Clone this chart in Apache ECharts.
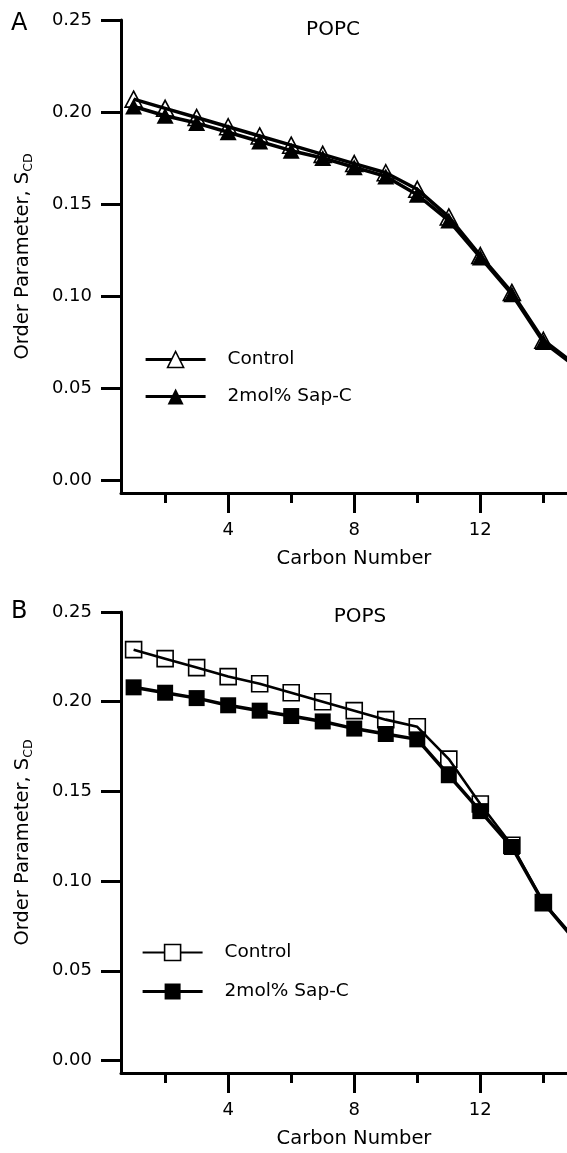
<!DOCTYPE html>
<html><head><meta charset="utf-8">
<script src="https://cdn.jsdelivr.net/npm/echarts@6/dist/echarts.min.js"></script>
<style>html,body{margin:0;padding:0;background:#fff}#c{width:567px;height:1153px}</style>
</head><body><div id="c"></div>
<script>
// ---- data ----
const carbons = [1, 2, 3, 4, 5, 6, 7, 8, 9, 10, 11, 12, 13, 14, 15];
const popcControl = [0.207, 0.202, 0.197, 0.192, 0.187, 0.182, 0.177, 0.172, 0.167, 0.158, 0.143, 0.122, 0.102, 0.076, 0.063];
const popcSapC    = [0.203, 0.198, 0.194, 0.189, 0.184, 0.179, 0.175, 0.170, 0.165, 0.155, 0.141, 0.121, 0.101, 0.075, 0.062];
const popsControl = [0.229, 0.224, 0.219, 0.214, 0.210, 0.205, 0.200, 0.195, 0.190, 0.186, 0.168, 0.143, 0.120, 0.088, 0.068];
const popsSapC    = [0.208, 0.205, 0.202, 0.198, 0.195, 0.192, 0.189, 0.185, 0.182, 0.179, 0.159, 0.139, 0.119, 0.088, 0.067];
const yTicks = [0, 0.05, 0.10, 0.15, 0.20, 0.25];
const xMajorTicks = [4, 8, 12];
const xMinorTicks = [2, 6, 10, 14];
const seriesNames = ['Control', '2mol% Sap-C'];
const panelTitles = ['POPC', 'POPS'];
const panelLetters = ['A', 'B'];
const xAxisName = 'Carbon Number';

// ---- layout ----
const FONT = 'DejaVu Sans';
const panels = [
  { top: 20, height: 473, legendLeft: 144, legendTop: 350, legendGap: 18, titleX: 333, titleY: 20, letterY: 12,
    symbol: 'triangle', symbolSize: [17, 16], ctrlWidth: 3.5, legendCtrlWidth: 3, data: [popcControl, popcSapC] },
  { top: 612, height: 461, legendLeft: 141, legendTop: 943, legendGap: 20, titleX: 360, titleY: 607, letterY: 600,
    symbol: 'rect', symbolSize: 16, ctrlWidth: 2.6, legendCtrlWidth: 2.2, data: [popsControl, popsSapC] }
];
const X_MIN = 0.6, X_MAX = 14.75, Y_MIN = -0.007, Y_MAX = 0.25;

const grid = [], xAxis = [], yAxis = [], series = [], legend = [], title = [];
panels.forEach((p, i) => {
  grid.push({ left: 121, top: p.top, width: 446, height: p.height, containLabel: false });
  const axisLine = { show: true, onZero: false, lineStyle: { color: '#000', width: 3 } };
  xAxis.push({
    type: 'value', gridIndex: i, position: 'bottom', min: X_MIN, max: X_MAX,
    axisLine: axisLine,
    axisTick: { show: true, inside: false, length: 20, customValues: xMajorTicks, lineStyle: { color: '#000', width: 3 } },
    axisLabel: { customValues: xMajorTicks, margin: 28, color: '#000', fontFamily: FONT, fontSize: 18 },
    splitLine: { show: false },
    name: xAxisName, nameLocation: 'middle', nameGap: 56,
    nameTextStyle: { color: '#000', fontFamily: FONT, fontSize: 19.5, padding: [0, 0, 0, 20] }
  });
  xAxis.push({
    type: 'value', gridIndex: i, position: 'bottom', offset: 0, min: X_MIN, max: X_MAX,
    axisLine: { show: false, onZero: false },
    axisTick: { show: true, inside: false, length: 10, customValues: xMinorTicks, lineStyle: { color: '#000', width: 3 } },
    axisLabel: { show: false },
    splitLine: { show: false }
  });
  yAxis.push({
    type: 'value', gridIndex: i, min: Y_MIN, max: Y_MAX,
    axisLine: axisLine,
    axisTick: { show: true, inside: false, length: 20, customValues: yTicks, lineStyle: { color: '#000', width: 3 } },
    axisLabel: { customValues: yTicks, margin: 29, color: '#000', fontFamily: FONT, fontSize: 18,
                 formatter: v => v.toFixed(2) },
    splitLine: { show: false },
    name: 'Order Parameter, S{sub|CD}', nameLocation: 'middle', nameGap: 86,
    nameTextStyle: { color: '#000', fontFamily: FONT, fontSize: 19.5, lineHeight: 24,
      rich: { sub: { fontFamily: FONT, fontSize: 12.5, color: '#000', verticalAlign: 'bottom', lineHeight: 24, padding: [10, 0, 0, 0] } } }
  });
  const names = seriesNames.map(n => n + ' (' + panelTitles[i] + ')');
  p.data.forEach((vals, k) => {
    const open = k === 0;
    series.push({
      type: 'line', name: names[k], xAxisIndex: 2 * i, yAxisIndex: i,
      data: carbons.map((c, j) => [c, vals[j]]),
      symbol: p.symbol, symbolSize: p.symbolSize, showAllSymbol: true, clip: true,
      lineStyle: { color: '#000', width: open ? p.ctrlWidth : 3.5 },
      itemStyle: open ? { color: 'rgba(255,255,255,0)', borderColor: '#000', borderWidth: 1.6 }
                      : { color: '#000', borderColor: '#000', borderWidth: 0 },
      emphasis: { disabled: true }, animation: false, z: 2 + k
    });
  });
  legend.push({
    orient: 'vertical', left: p.legendLeft, top: p.legendTop, itemWidth: 60, itemHeight: 20, itemGap: p.legendGap,
    selectedMode: false, padding: 0,
    data: [
      { name: names[0], itemStyle: { color: '#fff', borderColor: '#000', borderWidth: 1.6 },
        lineStyle: { color: '#000', width: p.legendCtrlWidth } },
      { name: names[1], lineStyle: { color: '#000', width: 3.2 } }
    ],
    formatter: n => n.replace(/ \(.*\)$/, ''),
    textStyle: { color: '#000', fontFamily: FONT, fontSize: 18.5, padding: [0, 0, 0, 17] }
  });
  title.push({ text: panelTitles[i], left: p.titleX, top: p.titleY, textAlign: 'center', padding: 0,
    textStyle: { color: '#000', fontFamily: FONT, fontSize: 20, fontWeight: 'normal' } });
  title.push({ text: panelLetters[i], left: 11, top: p.letterY, padding: 0,
    textStyle: { color: '#000', fontFamily: FONT, fontSize: 24, fontWeight: 'normal' } });
});

const chart = echarts.init(document.getElementById('c'), null, { renderer: 'canvas' });
chart.setOption({ backgroundColor: '#fff', animation: false, grid, xAxis, yAxis, series, legend, title });
</script></body></html>
